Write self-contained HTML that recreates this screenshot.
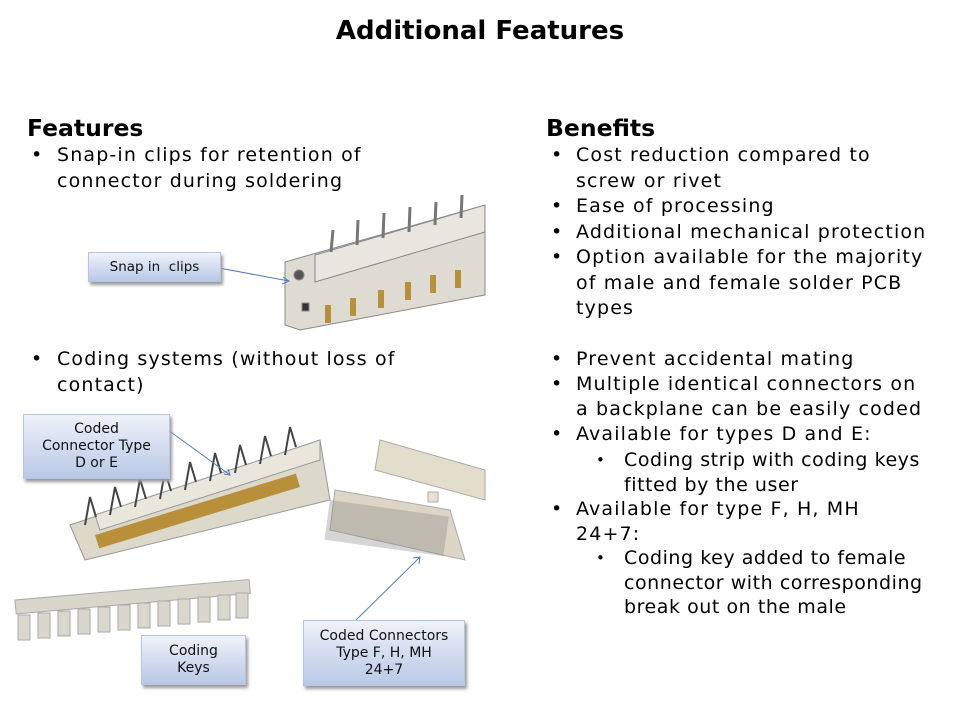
<!DOCTYPE html>
<html><head><meta charset="utf-8"><style>
body{margin:0;width:960px;height:720px;background:#fff;position:relative;overflow:hidden;font-family:"DejaVu Sans","Liberation Sans",sans-serif;color:#000}
.t{position:absolute;white-space:nowrap}
.h{font-weight:bold;font-size:23.5px;font-family:"DejaVu Sans",sans-serif}
.b{font-size:19px;line-height:25.5px;letter-spacing:1.15px}
.lbl{position:absolute;border:1px solid #b8c4dc;background:linear-gradient(#eef2fa,#b9c8e6);box-shadow:2px 3px 3px #999;text-align:center;font-size:13.5px;line-height:17px;display:flex;align-items:center;justify-content:center;color:#111}
</style></head><body>
<div class="t" style="left:0;width:960px;text-align:center;top:16px;font-size:26px;font-weight:bold">Additional Features</div>
<div class="t h" style="left:27px;top:114px">Features</div>
<div class="t h" style="left:546px;top:114px">Benefits</div>

<div class="t b" style="left:31px;top:143px">•</div>
<div class="t b" style="left:57px;top:143px">Snap-in clips for retention of<br>connector during soldering</div>
<div class="t b" style="left:31px;top:347px">•</div>
<div class="t b" style="left:57px;top:347px">Coding systems (without loss of<br>contact)</div>

<div class="t b" style="left:551px;top:143px">•<br><br>•<br>•<br>•</div>
<div class="t b" style="left:576px;top:143px">Cost reduction compared to<br>screw or rivet<br>Ease of processing<br>Additional mechanical protection<br>Option available for the majority<br>of male and female solder PCB<br>types</div>
<div class="t b" style="left:551px;top:347px;line-height:25px">•<br>•<br><br>•<br><br><br>•</div>
<div class="t b" style="left:576px;top:347px;line-height:25px">Prevent accidental mating<br>Multiple identical connectors on<br>a backplane can be easily coded<br>Available for types D and E:<br><br><br>Available for type F, H, MH<br>24+7:</div>
<div class="t b" style="left:596px;top:448px;font-size:15px;line-height:24.5px">•<br><br><br><br>•</div>
<div class="t b" style="left:624px;top:448px;line-height:24.5px;letter-spacing:0.55px">Coding strip with coding keys<br>fitted by the user<br><br><br>Coding key added to female<br>connector with corresponding<br>break out on the male</div>

<svg style="position:absolute;left:0;top:0" width="960" height="720">
<g stroke="#888" stroke-width="1">
<polygon points="285,262 485,205 485,295 300,330 285,325" fill="#dedbd2"/>
<polygon points="315,255 485,205 485,232 315,282" fill="#e8e6de"/>
<g stroke="#777" stroke-width="3"><line x1="333" y1="230" x2="331" y2="252"/><line x1="358" y1="220" x2="357" y2="245"/><line x1="384" y1="213" x2="383" y2="238"/><line x1="410" y1="207" x2="409" y2="232"/><line x1="436" y1="202" x2="435" y2="225"/><line x1="462" y1="195" x2="461" y2="218"/></g>
<g fill="#b8903a" stroke="none"><rect x="325" y="305" width="6" height="18"/><rect x="350" y="298" width="6" height="18"/><rect x="378" y="290" width="6" height="18"/><rect x="405" y="282" width="6" height="18"/><rect x="430" y="275" width="6" height="18"/><rect x="455" y="270" width="6" height="18"/></g>
<circle cx="299" cy="275" r="5" fill="#555"/><rect x="302" y="303" width="7" height="8" fill="#333"/>
</g>
<g stroke="#999">
<polygon points="70,525 320,440 330,500 85,560" fill="#dcd8ca"/>
<polygon points="95,515 320,440 320,460 100,530" fill="#e9e6dc"/>
<g fill="#b8903a" stroke="none">
<rect x="95" y="535" width="210" height="14" transform="rotate(-17 95 535)"/></g>
<g stroke="#444" stroke-width="2" fill="none">
<path d="M85,525 l5,-28 l6,20"/><path d="M110,515 l5,-28 l6,20"/><path d="M135,507 l5,-28 l6,20"/><path d="M160,499 l5,-28 l6,20"/><path d="M185,490 l5,-28 l6,20"/><path d="M210,481 l5,-28 l6,20"/><path d="M235,473 l5,-28 l6,20"/><path d="M260,464 l5,-28 l6,20"/><path d="M285,455 l5,-28 l6,20"/></g>
</g>
<g stroke="#aaa">
<polygon points="380,440 485,470 485,500 375,470" fill="#e3ddcc"/>
<polygon points="335,490 450,510 465,560 330,530" fill="#ddd6c6"/>
<rect x="428" y="492" width="10" height="10" fill="#e6e1d3"/>
<g fill="#888" stroke="none"><rect x="330" y="500" width="120" height="40" opacity="0.35" transform="rotate(8 330 500)"/></g>
</g>
<g fill="#d9d6cc" stroke="#aaa">
<rect x="15" y="600" width="235" height="14" transform="rotate(-5 15 600)"/>
<rect x="18" y="615" width="12" height="25"/><rect x="38" y="613" width="12" height="25"/><rect x="58" y="611" width="12" height="25"/><rect x="78" y="609" width="12" height="25"/><rect x="98" y="607" width="12" height="25"/><rect x="118" y="605" width="12" height="25"/><rect x="138" y="603" width="12" height="25"/><rect x="158" y="601" width="12" height="25"/><rect x="178" y="599" width="12" height="25"/><rect x="198" y="597" width="12" height="25"/><rect x="218" y="595" width="12" height="25"/><rect x="236" y="593" width="12" height="25"/>
</g>
<g stroke="#4f7bbf" stroke-width="1" fill="none">
<line x1="219" y1="268" x2="289" y2="281"/><path d="M283,277 l6,4 l-7,3"/>
<line x1="168" y1="430" x2="230" y2="475"/><path d="M224,474 l6,1 l-2,-6"/>
<line x1="356" y1="620" x2="420" y2="557"/><path d="M413,558 l7,-1 l-1,7"/>
</g>
</svg>

<div class="lbl" style="left:88px;top:252px;width:131px;height:28px">Snap in&nbsp; clips</div>
<div class="lbl" style="left:23px;top:414px;width:145px;height:63px;font-size:14px">Coded<br>Connector Type<br>D or E</div>
<div class="lbl" style="left:141px;top:635px;width:103px;height:48px;font-size:14px">Coding<br>Keys</div>
<div class="lbl" style="left:303px;top:620px;width:160px;height:64px;font-size:14px">Coded Connectors<br>Type F, H, MH<br>24+7</div>
</body></html>
